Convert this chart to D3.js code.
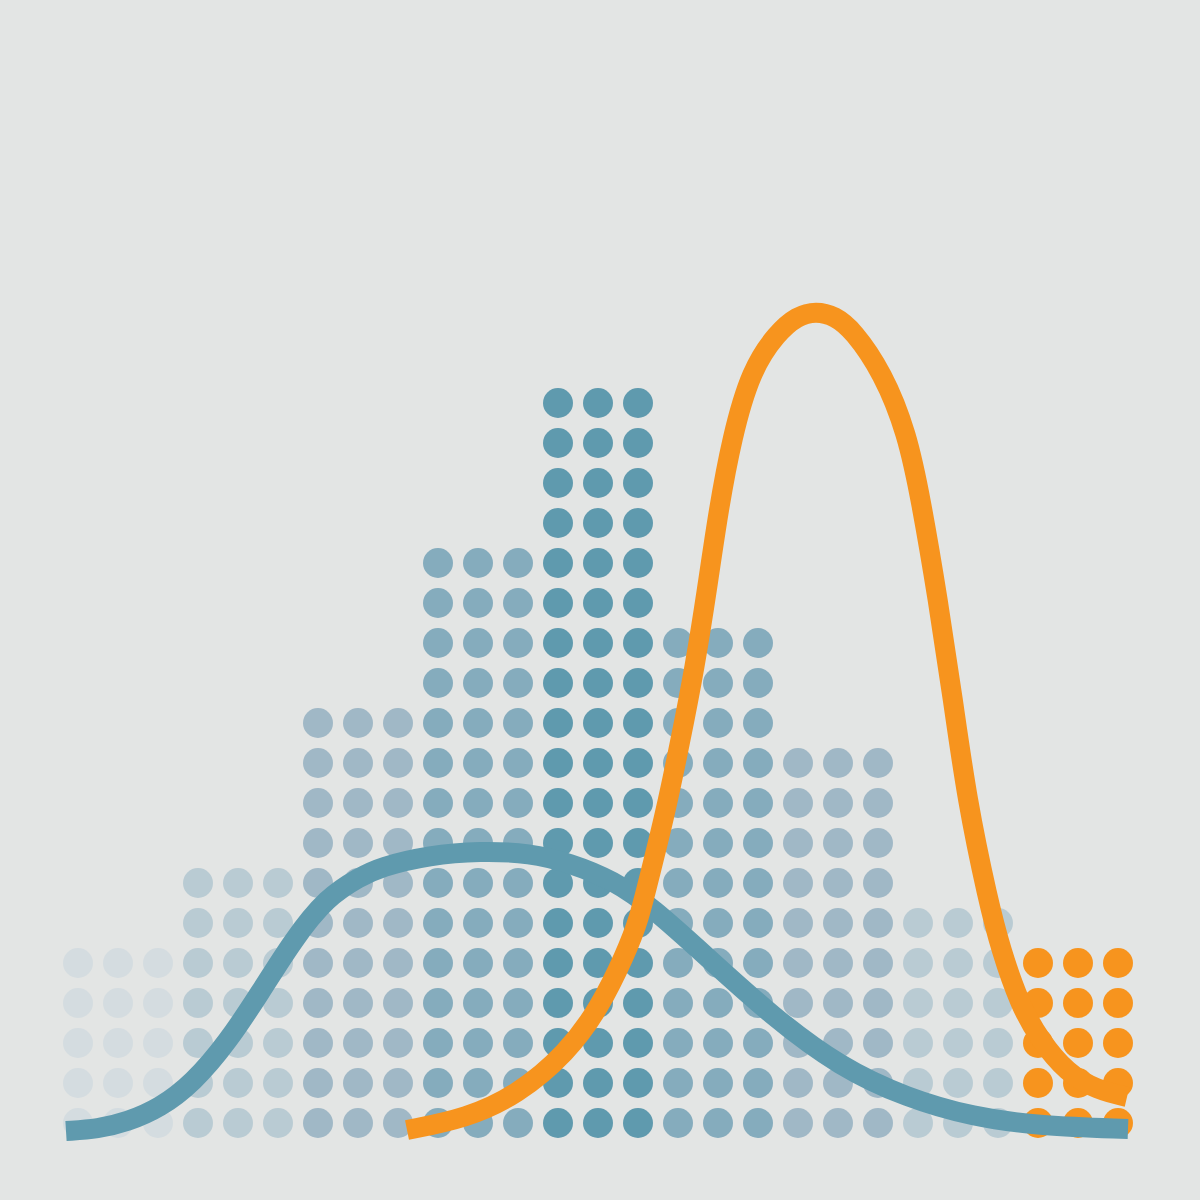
<!DOCTYPE html>
<html>
<head>
<meta charset="utf-8">
<script src="https://cdn.jsdelivr.net/npm/d3@7"></script>
<style>
  html, body { margin: 0; padding: 0; background: #e3e5e4; }
  svg { display: block; }
</style>
</head>
<body>
<script>
// dot counts per bin (three columns per bin)
var binCounts = [5, 7, 11, 15, 19, 13, 10, 6, 5];
var binColors = ["#d4dce0", "#b9cbd3", "#a0b8c6", "#85acbd", "#5f9aae",
                 "#85acbd", "#a0b8c6", "#b9cbd3", "#f7941e"];
var colsPerBin = 3;

// blue curve, x in column units, y in dot rows
var blueX = [-0.3, 0.5, 1.225, 2.05, 2.875, 3.725, 4.55, 5.375, 6.225, 7.05, 7.55,
             8.8, 10.05, 11.3, 12.3, 13.375, 14.375, 15.725, 17.375, 19.05, 20.725,
             22.375, 24.05, 26.25];
var blueY = [-0.2, -0.15, 0.025, 0.375, 1.0, 2.0, 3.25, 4.575, 5.65, 6.15, 6.4,
             6.7, 6.8, 6.75, 6.5, 6.075, 5.375, 4.15, 2.65, 1.4, 0.625,
             0.15, -0.075, -0.15];

// orange curve
var orangeX = [8.225, 9.725, 10.975, 12.225, 13.05, 13.675, 14.025, 14.325, 14.65, 15.05,
               15.425, 15.725, 16.0, 16.35, 16.825, 17.475, 17.975, 18.45, 18.925, 19.375,
               20.125, 20.725, 21.075, 21.5, 21.875, 22.225, 22.75, 23.075, 23.55, 24.05,
               24.725, 25.475, 26.225];
var orangeY = [-0.175, 0.125, 0.7, 1.75, 2.9, 4.2, 5.075, 6.325, 7.6, 9.5,
               11.425, 13.325, 15.25, 17.15, 18.825, 19.75, 20.175, 20.3, 20.175, 19.825,
               18.75, 17.25, 15.575, 13.075, 10.575, 8.075, 5.575, 4.325, 2.95, 2.075,
               1.25, 0.825, 0.65];

var width = 1200, height = 1200;

var svg = d3.select("body").append("svg")
  .attr("width", width)
  .attr("height", height);

svg.append("rect")
  .attr("width", width)
  .attr("height", height)
  .attr("fill", "#e3e5e4");

var x = d3.scaleLinear().domain([0, 26]).range([78, 1118]);
var y = d3.scaleLinear().domain([0, 18]).range([1123, 403]);

// build dot list
var dots = [];
binCounts.forEach(function(count, b) {
  for (var c = 0; c < colsPerBin; c++) {
    for (var r = 0; r < count; r++) {
      dots.push({ col: b * colsPerBin + c, row: r, bin: b });
    }
  }
});

svg.append("g").selectAll("circle")
  .data(dots)
  .enter()
  .append("circle")
  .attr("cx", function(d) { return x(d.col); })
  .attr("cy", function(d) { return y(d.row); })
  .attr("r", 15)
  .attr("fill", function(d) { return binColors[d.bin]; });

var line = d3.line()
  .x(function(d) { return x(d[0]); })
  .y(function(d) { return y(d[1]); })
  .curve(d3.curveBasis);

var bluePts = blueX.map(function(v, i) { return [v, blueY[i]]; });
var orangePts = orangeX.map(function(v, i) { return [v, orangeY[i]]; });

svg.append("path")
  .attr("d", line(bluePts))
  .attr("fill", "none")
  .attr("stroke", "#5f9aae")
  .attr("stroke-width", 20)
  .attr("stroke-linecap", "butt");

svg.append("path")
  .attr("d", line(orangePts))
  .attr("fill", "none")
  .attr("stroke", "#f7941e")
  .attr("stroke-width", 20)
  .attr("stroke-linecap", "butt");
</script>
</body>
</html>
